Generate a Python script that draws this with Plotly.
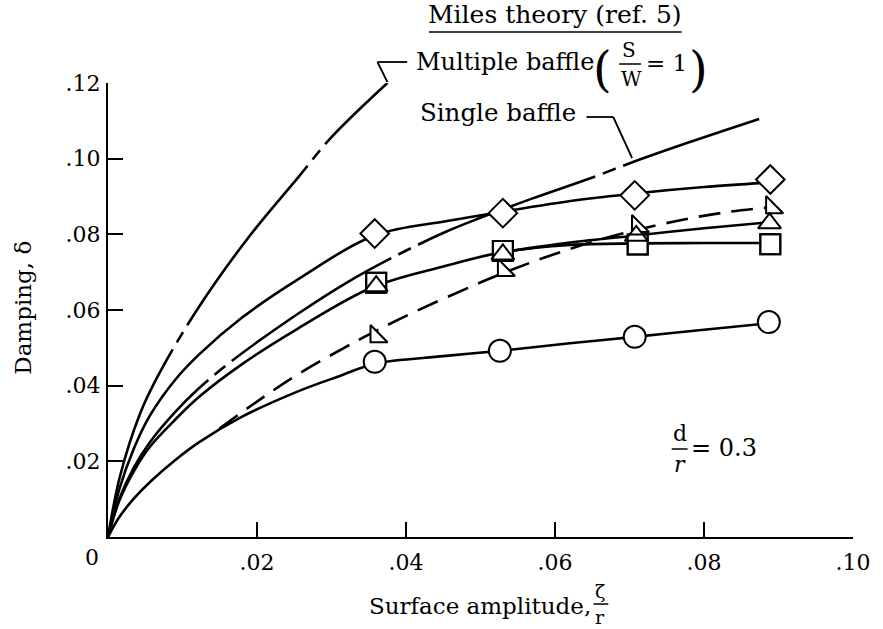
import plotly.graph_objects as go

# ---------------- data ----------------
# measured points, surface amplitude zeta/r vs damping delta
diamond_x = [0.0358, 0.0530, 0.0707, 0.0889]
diamond_y = [0.0802, 0.0856, 0.0903, 0.0945]
square_x = [0.0360, 0.0530, 0.0711, 0.0889]
square_y = [0.0672, 0.0756, 0.0773, 0.0774]
triangle_x = [0.0360, 0.0530, 0.0709, 0.0888]
triangle_y = [0.0663, 0.0747, 0.0796, 0.0829]
rtriangle_x = [0.0360, 0.0531, 0.0711, 0.0891]
rtriangle_y = [0.0530, 0.0705, 0.0821, 0.0871]
circle_x = [0.0358, 0.0526, 0.0707, 0.0887]
circle_y = [0.0463, 0.0492, 0.0529, 0.0568]

# faired curves
diamond_curve_x = [0, 0.0015, 0.0035, 0.0056, 0.0090, 0.0122, 0.0180, 0.0255, 0.0358, 0.0455, 0.0530, 0.0628, 0.0707, 0.0800, 0.0889]
diamond_curve_y = [0, 0.0125, 0.0235, 0.0320, 0.0415, 0.0482, 0.0580, 0.0681, 0.0797, 0.0835, 0.0860, 0.0890, 0.0908, 0.0925, 0.0937]
square_curve_x = [0, 0.0015, 0.0035, 0.0056, 0.0090, 0.0122, 0.0180, 0.0255, 0.0355, 0.0450, 0.0530, 0.0620, 0.0711, 0.0800, 0.0889]
square_curve_y = [0, 0.0095, 0.0175, 0.0238, 0.0310, 0.0370, 0.0457, 0.0551, 0.0660, 0.0715, 0.0753, 0.0772, 0.0776, 0.0777, 0.0777]
triangle_curve_x = [0.0530, 0.0620, 0.0709, 0.0800, 0.0888]
triangle_curve_y = [0.0753, 0.0778, 0.0797, 0.0816, 0.0832]
circle_curve_x = [0, 0.0015, 0.0034, 0.0060, 0.0090, 0.0122, 0.0180, 0.0255, 0.0310, 0.0358, 0.0450, 0.0526, 0.0620, 0.0707, 0.0800, 0.0887]
circle_curve_y = [0, 0.0052, 0.0100, 0.0152, 0.0203, 0.0250, 0.0318, 0.0385, 0.0425, 0.0458, 0.0478, 0.0492, 0.0512, 0.0529, 0.0548, 0.0565]
rtriangle_curve_x = [0.0150, 0.0200, 0.0255, 0.0317, 0.0360, 0.0406, 0.0499, 0.0531, 0.0588, 0.0650, 0.0711, 0.0780, 0.0836, 0.0891]
rtriangle_curve_y = [0.0287, 0.0358, 0.0430, 0.0500, 0.0545, 0.0590, 0.0672, 0.0698, 0.0740, 0.0780, 0.0812, 0.0842, 0.0860, 0.0872]

# Miles theory (ref. 5)
multiple_x = [0, 0.0016, 0.0043, 0.0069, 0.0122, 0.0189, 0.0255, 0.0300, 0.0375]
multiple_y = [0, 0.0160, 0.0326, 0.0433, 0.0608, 0.0793, 0.0950, 0.1057, 0.1200]
single_x = [0, 0.0015, 0.0035, 0.0056, 0.0090, 0.0122, 0.0166, 0.0255, 0.0320, 0.0388, 0.0455, 0.0499, 0.0570, 0.0654, 0.0703, 0.0778, 0.0874]
single_y = [0, 0.0100, 0.0185, 0.0250, 0.0330, 0.0393, 0.0465, 0.0590, 0.0672, 0.0745, 0.0808, 0.0843, 0.0895, 0.0953, 0.0990, 0.1042, 0.1105]

x_ticks = [0, 0.02, 0.04, 0.06, 0.08, 0.10]
x_ticktext = ["", ".02", ".04", ".06", ".08", ".10"]
y_ticks = [0, 0.02, 0.04, 0.06, 0.08, 0.10, 0.12]
y_ticktext = ["", ".02", ".04", ".06", ".08", ".10", ".12"]

# ---------------- figure ----------------
FONT = "DejaVu Serif"
L, T, W, H = 108, 83, 752, 454
FW, FH = 883, 629


def px(x):
    return (x - L) / W


def py(y):
    return (T + H - y) / H


fig = go.Figure()
LW = 2.6


def curve(x, y, dash="solid"):
    fig.add_trace(go.Scatter(x=x, y=y, mode="lines",
                             line=dict(color="black", width=LW, dash=dash, shape="spline", smoothing=1.0),
                             hoverinfo="skip", showlegend=False, cliponaxis=False))


curve(multiple_x, multiple_y, "200px,8px,12px,8px")
curve(single_x, single_y, "190px,8px,14px,8px")
curve(diamond_curve_x, diamond_curve_y)
curve(square_curve_x, square_curve_y)
curve(triangle_curve_x, triangle_curve_y)
curve(circle_curve_x, circle_curve_y)
curve(rtriangle_curve_x, rtriangle_curve_y, "22px,11px")


def markers(x, y, symbol, size, fill="white"):
    fig.add_trace(go.Scatter(x=x, y=y, mode="markers",
                             marker=dict(symbol=symbol, size=size, color=fill, line=dict(color="black", width=2)),
                             hoverinfo="skip", showlegend=False, cliponaxis=False))


markers(diamond_x, diamond_y, "diamond", 22)
markers(circle_x, circle_y, "circle", 22)
markers(rtriangle_x, rtriangle_y, "triangle-sw", 19)
markers(square_x, square_y, "square", 20)
markers(triangle_x, triangle_y, "triangle-up", 20)
markers(square_x, square_y, "square", 20, fill="rgba(0,0,0,0)")

ann = []


def text(x, y, s, size=23, xanchor="left", yanchor="middle", angle=0):
    ann.append(dict(x=px(x), y=py(y), xref="paper", yref="paper", text=s, showarrow=False,
                    xanchor=xanchor, yanchor=yanchor, textangle=angle, borderpad=0,
                    font=dict(family=FONT, size=size, color="black")))


shapes = []


def seg(x0, y0, x1, y1, w=1.8):
    shapes.append(dict(type="line", xref="paper", yref="paper", x0=px(x0), y0=py(y0), x1=px(x1), y1=py(y1),
                       line=dict(color="black", width=w)))


# heading
text(559, 15, "Miles theory (ref. 5)", size=25, xanchor="center")
seg(432, 32, 687, 32, 1.6)
# multiple baffle label
text(418, 62, "Multiple baffle", size=24)
text(597, 69, "(", size=48, xanchor="left")
text(634, 63, "S", size=20, xanchor="center", yanchor="bottom")
seg(624, 64, 646, 64, 1.5)
text(636, 66, "W", size=20, xanchor="center", yanchor="top")
text(650, 63, "= 1", size=23)
text(693, 69, ")", size=48, xanchor="left")
seg(390, 82, 380, 62, 1.8)
seg(380, 62, 410, 62, 1.8)
# single baffle label
text(422, 113, "Single baffle", size=24.5)
seg(591, 117, 618, 117, 1.8)
seg(618, 117, 637, 158, 1.8)
# d/r = 0.3
text(685, 447, "d", size=22, xanchor="center", yanchor="bottom")
seg(677, 449, 693, 449, 1.5)
text(685, 451, "<i>r</i>", size=22, xanchor="center", yanchor="top")
text(695, 448, "= 0.3", size=24)
# origin label
text(92, 557, "0", size=22, xanchor="center")
# axis titles
text(22, 308, "Damping, δ", xanchor="center", angle=-90)
text(370, 606, "Surface amplitude,")
text(605, 603, "ζ", size=19, xanchor="center", yanchor="bottom")
seg(598, 604, 613, 604, 1.5)
text(605, 605, "r", size=19, xanchor="center", yanchor="top")

axis_common = dict(ticks="inside", ticklen=15, tickwidth=2, tickcolor="black", showline=True, linecolor="black",
                   linewidth=2, showgrid=False, zeroline=False, tickfont=dict(family=FONT, size=22, color="black"),
                   fixedrange=True)

fig.update_layout(
    width=FW, height=FH, margin=dict(l=L, r=FW - L - W, t=T, b=FH - T - H), autosize=False,
    paper_bgcolor="white", plot_bgcolor="white", showlegend=False,
    xaxis=dict(range=[0, 0.1], tickvals=x_ticks, ticktext=x_ticktext, ticklabelstandoff=5, **axis_common),
    yaxis=dict(range=[0, 0.12], tickvals=y_ticks, ticktext=y_ticktext, ticklabelstandoff=1, **axis_common),
    annotations=ann, shapes=shapes,
)

fig.write_html("out.html")
